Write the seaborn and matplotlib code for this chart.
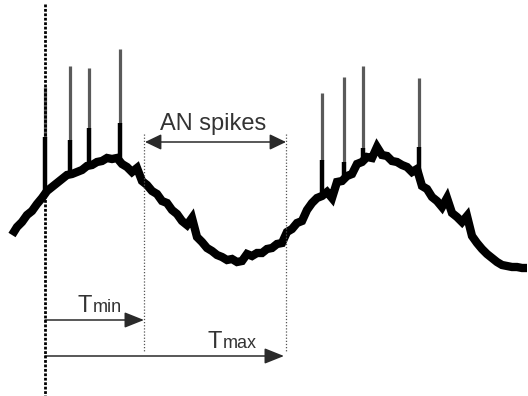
import numpy as np
import pandas as pd
import matplotlib
matplotlib.use("Agg")
import matplotlib.pyplot as plt
import seaborn as sns

# ---------------- data (arbitrary units) ----------------
t = [12, 17, 22, 27, 32, 37, 42, 47, 52, 57, 62, 67, 72, 77, 82, 87, 92, 97, 102, 107,
     112, 117, 122, 127, 132, 137, 142, 147, 152, 157, 162, 167, 172, 177, 182, 187, 192, 197, 202, 207,
     212, 217, 222, 227, 232, 237, 242, 247, 252, 257, 262, 267, 272, 277, 282, 287, 292, 297, 302, 307,
     312, 317, 322, 327, 332, 337, 342, 347, 352, 357, 362, 367, 372, 377, 382, 387, 392, 397, 402, 407,
     412, 417, 422, 427, 432, 437, 442, 447, 452, 457, 462, 467, 472, 477, 482, 487, 492, 497, 502, 507,
     512, 517, 522, 527]
v = [235, 227, 222, 215, 211, 204, 198, 191, 187, 183, 179, 175, 174, 172, 170, 166, 165, 162, 161, 158,
     159, 158, 164, 167, 172, 168, 181, 185, 191, 194, 201, 203, 210, 214, 221, 225, 218, 237, 242, 248,
     251, 255, 257, 260, 259, 262, 261, 254, 256, 253, 253, 249, 248, 244, 243, 232, 229, 223, 221, 210,
     203, 198, 196, 192, 198, 182, 181, 176, 174, 164, 162, 157, 158, 147, 155, 156, 161, 162, 165, 167,
     172, 169, 186, 189, 197, 201, 207, 198, 213, 217, 222, 216, 236, 243, 249, 254, 258, 262, 265, 266,
     267, 267, 268, 268]

spike_t = [45, 70, 89, 120, 322, 344, 363, 419]
spike_top = [87, 66, 68, 49, 93, 77, 66, 78]
spike_black_top = [137, 140, 128, 123, 160, 162, 148, 147]

onset_t = 45
tmin_t = 144
tmax_t = 286
labels = {"an": "AN spikes", "T": "T", "min": "min", "max": "max"}

# ---------------- figure ----------------
sns.set_style("white")
plt.rcParams["font.family"] = ["Liberation Sans", "DejaVu Sans"]

fig = plt.figure(figsize=(5.28, 3.96), dpi=100)
ax = fig.add_axes([0, 0, 1, 1])
ax.set_xlim(0, 528)
ax.set_ylim(396, 0)
ax.axis("off")

df = pd.DataFrame({"t": t, "v": v})
sns.lineplot(data=df, x="t", y="v", ax=ax, color="black", lw=6.0,
             sort=False, estimator=None, solid_joinstyle="miter", solid_capstyle="butt")

base = np.interp(spike_t, t, v)
ax.vlines(spike_t, spike_top, spike_black_top, color="#5a5a5a", lw=2.3, zorder=3)
ax.vlines(spike_t, spike_black_top, base, color="black", lw=3.2, zorder=3)

# vertical reference lines
ax.vlines(onset_t, 4, 396, color="black", lw=2.0, linestyles=[(0, (1, 0.6))], zorder=4)
ax.vlines([tmin_t, tmax_t], 134, 351, color="#555555", lw=0.9,
          linestyles=[(0, (1, 1.5))], zorder=4)

# arrows
arrow_kw = dict(arrowstyle="-|>,head_length=0.6,head_width=0.24", color="#2a2a2a",
                lw=1.1, shrinkA=0, shrinkB=0, mutation_scale=20)
ax.annotate("", xy=(tmin_t, 320), xytext=(onset_t, 320), arrowprops=arrow_kw)
ax.annotate("", xy=(tmax_t - 2, 356), xytext=(onset_t, 356), arrowprops=arrow_kw)
ax.annotate("", xy=(tmax_t, 142), xytext=(tmin_t + 1, 142),
            arrowprops=dict(arrowstyle="<|-|>,head_length=0.5,head_width=0.24",
                            color="#2a2a2a", lw=1.1, shrinkA=0, shrinkB=0,
                            mutation_scale=20))

# labels
tc = "#333333"
ax.text(160, 130, labels["an"], fontsize=17, color=tc, ha="left", va="baseline")
ax.text(77, 312, labels["T"], fontsize=17, color=tc, ha="left", va="baseline")
ax.text(93, 312, labels["min"], fontsize=13, color=tc, ha="left", va="baseline")
ax.text(208, 348, labels["T"], fontsize=17, color=tc, ha="left", va="baseline")
ax.text(223, 348, labels["max"], fontsize=13, color=tc, ha="left", va="baseline")

fig.savefig("out.png", dpi=100)
